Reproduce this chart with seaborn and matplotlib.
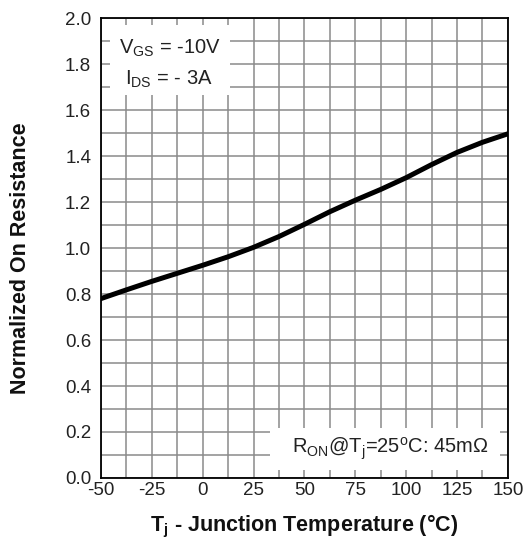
import matplotlib
matplotlib.use("Agg")
import matplotlib.pyplot as plt
from matplotlib.patches import Rectangle
from matplotlib.ticker import MultipleLocator
import seaborn as sns
import pandas as pd

# Data
temps = [-50, -37.5, -25, -12.5, 0, 12.5, 25, 37.5, 50, 62.5, 75, 87.5,
         100, 112.5, 125, 137.5, 150]
norm_ron = [0.78, 0.818, 0.855, 0.89, 0.925, 0.962, 1.003, 1.05, 1.103, 1.158,
            1.208, 1.255, 1.306, 1.363, 1.416, 1.46, 1.497]
xticks = [-50, -25, 0, 25, 50, 75, 100, 125, 150]
yticks = [0.0, 0.2, 0.4, 0.6, 0.8, 1.0, 1.2, 1.4, 1.6, 1.8, 2.0]

sns.set_style("white")
plt.rcParams['font.family'] = ['Liberation Sans', 'DejaVu Sans']
plt.rcParams['mathtext.fontset'] = 'custom'
plt.rcParams['mathtext.rm'] = 'Liberation Sans'
plt.rcParams['mathtext.it'] = 'Liberation Sans'
plt.rcParams['mathtext.bf'] = 'Liberation Sans:bold'

df = pd.DataFrame({"T": temps, "R": norm_ron})

fig = plt.figure(figsize=(5.28, 5.41), dpi=100)
ax = fig.add_axes([0.191, 0.1165, 0.771, 0.850])

sns.lineplot(data=df, x="T", y="R", ax=ax, color="black", linewidth=3.6, zorder=5)

ax.set_xlim(-50, 150)
ax.set_ylim(0, 2.0)
ax.set_xticks(xticks)
ax.set_yticks(yticks)
ax.set_xticklabels([str(t) for t in xticks])
ax.set_yticklabels([f"{v:.1f}" for v in yticks])
ax.xaxis.set_minor_locator(MultipleLocator(12.5))
ax.yaxis.set_minor_locator(MultipleLocator(0.1))
ax.grid(True, which="both", color="#8a8a8a", linewidth=1.1, zorder=0)
ax.set_axisbelow(True)
ax.tick_params(axis="x", which="both", length=0, labelsize=13.5, colors="#222222", pad=3)
ax.tick_params(axis="y", which="both", length=0, labelsize=13.5, colors="#222222", pad=7)

for s in ax.spines.values():
    s.set_color("black")
    s.set_linewidth(1.3)
    s.set_visible(True)
    s.set_zorder(6)

ax.set_xlabel(r"T$_\mathbf{j}$ - Junction Temperature (°C)", fontsize=15.5,
              fontweight="bold", color="#111111", labelpad=10)
ax.set_ylabel("Normalized On Resistance", fontsize=15.5, fontweight="bold",
              color="#111111")
ax.yaxis.set_label_coords(-0.172, 0.479)

# white label boxes
ax.add_patch(Rectangle((0.022, 0.833), 0.295, 0.152, transform=ax.transAxes,
                       facecolor="white", edgecolor="none", zorder=2))
ax.add_patch(Rectangle((0.415, 0.017), 0.565, 0.092, transform=ax.transAxes,
                       facecolor="white", edgecolor="none", zorder=2))

ax.text(-41, 1.87, r"V$_\mathrm{GS}$ = -10V", fontsize=14.5, color="#222222",
        va="center", ha="left", zorder=3)
ax.text(-38, 1.735, r"I$_\mathrm{DS}$ = - 3A", fontsize=14.5, color="#222222",
        va="center", ha="left", zorder=3)
ax.text(44, 0.125, r"R$_\mathrm{ON}$@T$_\mathrm{j}$=25$^\mathrm{o}$C: 45m$\Omega$",
        fontsize=14.5, color="#222222", va="center", ha="left", zorder=3)

fig.savefig("out.png", dpi=100, facecolor="white")
